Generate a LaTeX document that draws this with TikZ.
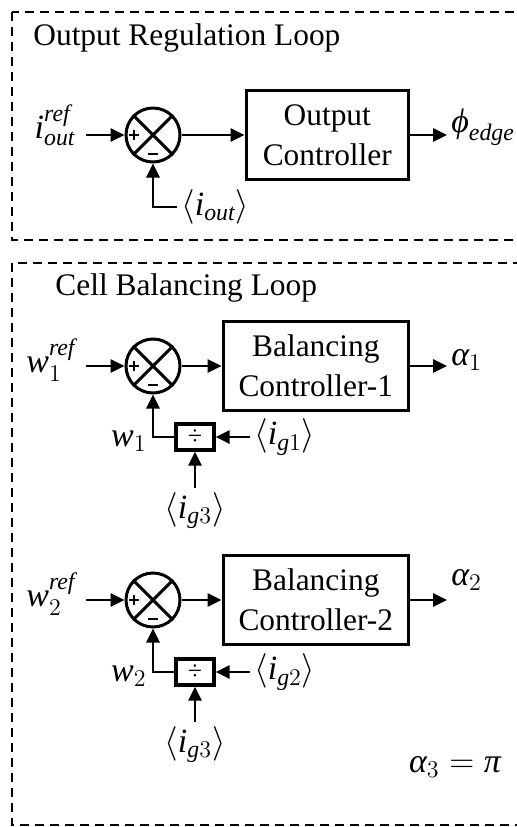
\documentclass[tikz,border=0pt]{standalone}
\usepackage{amsmath}
\usepackage{fontspec}
\setmainfont{Liberation Serif}
\usetikzlibrary{arrows.meta, positioning}
\newcommand{\mi}[1]{\textit{#1}}

\begin{document}
\begin{tikzpicture}[x=0.5pt, y=-0.5pt, >={Triangle[length=7pt,width=6.5pt]},
  font=\fontsize{15.7}{20}\selectfont,
  sum/.style={draw, circle, line width=1.5pt, minimum size=27pt, inner sep=0pt},
  ctrl/.style={draw, line width=1.8pt, minimum height=44.5pt, align=center},
  divbox/.style={draw, line width=1.6pt, minimum width=19pt, minimum height=13pt, inner sep=0pt, font=\fontsize{13}{13}\selectfont},
  sig/.style={->, line width=1.4pt},
  inlab/.style={inner sep=5pt, font=\fontsize{17}{17}\selectfont},
  lab/.style={inner sep=2pt, font=\fontsize{17}{17}\selectfont},
  frame/.style={dash pattern=on 4.5pt off 3pt, line width=1.3pt}]
  \useasboundingbox (0,0) rectangle (517,827);
  \clip (0,0) rectangle (517,827);

  % frames
  \draw[frame] (12,12) rectangle (530,240);
  \draw[frame] (12,263) rectangle (530,825);
  \node[anchor=base west, inner sep=0pt] (t0) at (33,45) {Output Regulation Loop};
  \node[anchor=base west, inner sep=0pt] (t1) at (55,295) {Cell Balancing Loop};

  % output regulation loop
  \node[sum] (s0) at (153,135) {};
  \node[ctrl, minimum width=81pt, right=31.5pt of s0] (c0) {Output\\Controller};
  \node[inlab, anchor=east] (r0) at (86,125) {$\mi{i}^{\mi{ref}}_{\mi{out}}$};
  \node[lab, anchor=west] (y0) at (447,127) {$\mi{ϕ}_{\mi{edge}}$};
  \node[lab, anchor=west] (f0) at (177,207) {$\langle \mi{i}_{\mi{out}}\rangle$};
  \draw[sig] (r0.east |- s0) -- (s0);
  \draw[sig] (s0) -- (c0);
  \draw[sig] (c0) -- (y0.west |- c0);
  \draw[sig] (f0.west) -| (s0);

  % cell balancing loop, cell 1
  \node[sum] (s1) at (153,366) {};
  \node[ctrl, minimum width=92.5pt, right=20pt of s1] (c1) {Balancing\\Controller-1};
  \node[inlab, anchor=east] (r1) at (86,360) {$\mi{w}^{\mi{ref}}_{1}$};
  \node[lab, anchor=west] (y1) at (447,360) {$\mi{α}_{1}$};
  \node[divbox] (d1) at (195,437) {÷};
  \node[lab, anchor=east] (w1) at (151,441) {$\mi{w}_{1}$};
  \node[lab, anchor=west] (g1) at (250,437) {$\langle \mi{i}_{\mi{g}1}\rangle$};
  \node[lab, anchor=north] (h1) at (195,488) {$\langle \mi{i}_{\mi{g}3}\rangle$};
  \draw[sig] (r1.east |- s1) -- (s1);
  \draw[sig] (s1) -- (c1);
  \draw[sig] (c1) -- (y1.west |- c1);
  \draw[sig] (d1.west) -| (s1);
  \draw[sig] (g1.west) -- (d1.east);
  \draw[sig] (h1.north) -- (d1.south);

  % cell 2
  \node[sum] (s2) at (153,600) {};
  \node[ctrl, minimum width=92.5pt, right=20pt of s2] (c2) {Balancing\\Controller-2};
  \node[inlab, anchor=east] (r2) at (86,594) {$\mi{w}^{\mi{ref}}_{2}$};
  \node[lab, anchor=west] (y2) at (447,580) {$\mi{α}_{2}$};
  \node[divbox] (d2) at (195,672) {÷};
  \node[lab, anchor=east] (w2) at (151,676) {$\mi{w}_{2}$};
  \node[lab, anchor=west] (g2) at (250,672) {$\langle \mi{i}_{\mi{g}2}\rangle$};
  \node[lab, anchor=north] (h2) at (195,722) {$\langle \mi{i}_{\mi{g}3}\rangle$};
  \draw[sig] (r2.east |- s2) -- (s2);
  \draw[sig] (s2) -- (c2);
  \draw[sig] (c2) -- (y2.west |- c2);
  \draw[sig] (d2.west) -| (s2);
  \draw[sig] (g2.west) -- (d2.east);
  \draw[sig] (h2.north) -- (d2.south);

  \node[lab] (a3) at (455,767) {$\mi{α}_{3} = \mi{π}$};

  % summing junction marks
  \foreach \s in {s0,s1,s2}{
    \draw[line width=1.5pt] (\s.north west) -- (\s.south east) (\s.north east) -- (\s.south west);
    \draw[line width=1.3pt, shift={(\s.center)}] (-24,0) -- (-14,0) (-19,-5) -- (-19,5) (-5,19) -- (5,19);
  }
\end{tikzpicture}
\end{document}
